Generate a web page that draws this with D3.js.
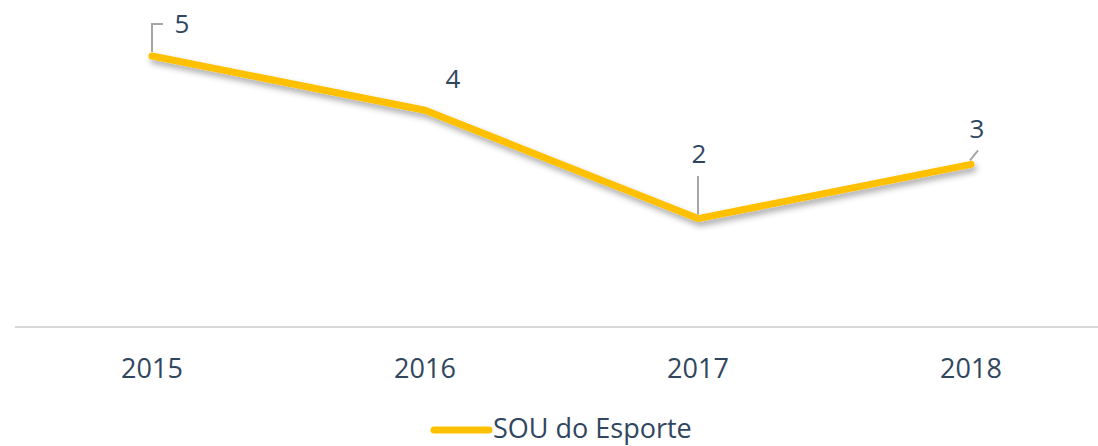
<!DOCTYPE html>
<html lang="en">
	<head>
		<meta charset="utf-8">
		<title>SOU do Esporte</title>
		<script type="text/javascript" src="https://cdn.jsdelivr.net/npm/d3@7"></script>
		<style type="text/css">
			body { margin: 0; background: #fff; }
			text { font-family: "Open Sans", sans-serif; fill: #30465F; }
		</style>
	</head>
	<body>
		<script type="text/javascript">

		// data
		var years = ["2015", "2016", "2017", "2018"];
		var values = [5, 4, 2, 3];
		var seriesName = "SOU do Esporte";

		// label placement relative to each point (dx, dy)
		var labelOffsets = [[30, -23], [28, -22], [1, -56], [6, -26]];

		var w = 1098;
		var h = 446;
		var baseY = 327;

		var svg = d3.select("body")
					.append("svg")
					.attr("width", w)
					.attr("height", h);

		var defs = svg.append("defs");
		var f = defs.append("filter").attr("id", "shadow")
					.attr("x", "-5%").attr("y", "-20%").attr("width", "110%").attr("height", "160%");
		f.append("feDropShadow")
			.attr("dx", 2).attr("dy", 4).attr("stdDeviation", 3)
			.attr("flood-color", "#000").attr("flood-opacity", 0.35);

		var x = d3.scaleBand()
					.domain(years)
					.range([15.5, 1107.5]);

		var y = d3.scaleLinear()
					.domain([0, 5])
					.range([baseY, 56]);

		function cx(d) { return x(d) + x.bandwidth() / 2; }

		// baseline
		svg.append("line")
			.attr("x1", 15).attr("x2", w)
			.attr("y1", baseY).attr("y2", baseY)
			.attr("stroke", "#D9D9D9")
			.attr("stroke-width", 2);

		// category labels
		svg.selectAll("text.year")
			.data(years)
			.enter()
			.append("text")
			.attr("class", "year")
			.attr("x", function(d) { return cx(d); })
			.attr("y", 378)
			.attr("text-anchor", "middle")
			.style("font-size", "27px")
			.text(function(d) { return d; });

		var line = d3.line()
					.x(function(d, i) { return cx(years[i]); })
					.y(function(d) { return y(d); });

		svg.append("path")
			.datum(values)
			.attr("d", line)
			.attr("fill", "none")
			.attr("stroke", "#FFC000")
			.attr("stroke-width", 7)
			.attr("stroke-linejoin", "round")
			.attr("stroke-linecap", "round")
			.attr("filter", "url(#shadow)");

		// leader lines
		var leaders = [
			function(px, py) { return [[px, py - 4], [px, 24], [px + 11, 24]]; },
			null,
			function(px, py) { return [[px, py - 4], [px, 176]]; },
			function(px, py) { return [[px - 1, py - 4], [px + 7, py - 14]]; }
		];
		values.forEach(function(v, i) {
			if (!leaders[i]) return;
			var pts = leaders[i](cx(years[i]), y(v));
			svg.append("path")
				.attr("d", d3.line()(pts))
				.attr("fill", "none")
				.attr("stroke", "#A6A6A6")
				.attr("stroke-width", 2);
		});

		// value labels
		svg.selectAll("text.value")
			.data(values)
			.enter()
			.append("text")
			.attr("class", "value")
			.attr("x", function(d, i) { return cx(years[i]) + labelOffsets[i][0]; })
			.attr("y", function(d, i) { return y(d) + labelOffsets[i][1]; })
			.attr("text-anchor", "middle")
			.style("font-size", "26px")
			.text(function(d) { return d; });

		// legend
		svg.append("line")
			.attr("x1", 434).attr("x2", 489)
			.attr("y1", 430).attr("y2", 430)
			.attr("stroke", "#FFC000")
			.attr("stroke-width", 7)
			.attr("stroke-linecap", "round");

		svg.append("text")
			.attr("x", 493)
			.attr("y", 438)
			.style("font-size", "27px")
			.text(seriesName);

		</script>
	</body>
</html>
